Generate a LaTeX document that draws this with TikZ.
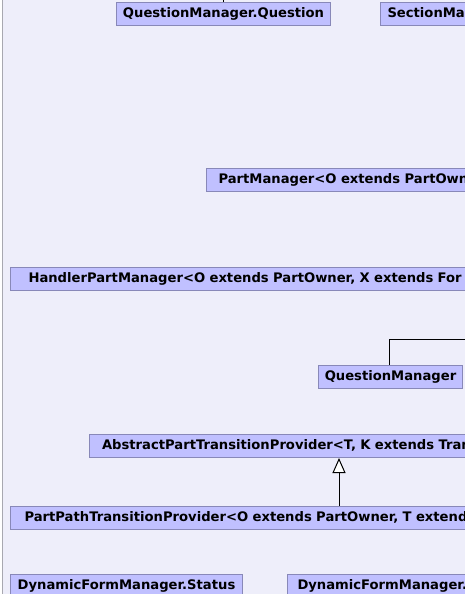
\documentclass[tikz,border=0pt]{standalone}
\usepackage{fontspec}
\setmainfont{DejaVu Sans}
\usetikzlibrary{arrows.meta}
\definecolor{bgc}{RGB}{238,238,250}
\definecolor{boxc}{RGB}{192,192,255}
\definecolor{bordc}{RGB}{136,136,184}
\definecolor{edgec}{RGB}{168,168,176}
\newcommand{\clsfont}{\fontsize{13.15pt}{15pt}\selectfont\bfseries}
\tikzset{
  cls/.style={draw=bordc, fill=boxc, line width=1pt, minimum height=23pt,
    inner ysep=0pt, text height=10pt, text depth=3pt, anchor=north west,
    font=\clsfont, text=black},
  widecls/.style={cls, text width=700pt, align=left, inner xsep=#1},
  link/.style={draw=black, line width=1pt},
  inherit/.style={link, -{Triangle[length=15pt, width=13pt, fill=white]}}
}
\begin{document}
\begin{tikzpicture}[x=1pt, y=-1pt]
\useasboundingbox (0,0) rectangle (465,594);
\clip (0,0) rectangle (465,594);
\fill[white] (0,0) rectangle (465,594);
\fill[bgc] (2.5,-2) rectangle (470,600);
\draw[edgec, line width=1pt] (2.5,-2) -- (2.5,600);

\node[cls, minimum width=214pt, inner xsep=0pt] (qmq) at (116,2) {QuestionManager.Question};
\node[widecls=7pt] (sm) at (380,2) {SectionMan};
\node[widecls=12pt] (pm) at (206,168) {PartManager\textless O extends PartOwn};
\node[widecls=18pt] (hpm) at (10,267) {HandlerPartManager\textless O extends PartOwner, X extends For};
\node[cls, minimum width=144pt, inner xsep=0pt] (qm) at (318,365) {QuestionManager};
\node[widecls=12.5pt] (aptp) at (89,434) {AbstractPartTransitionProvider\textless T, K extends Tran};
\node[widecls=14pt] (pptp) at (10,506) {PartPathTransitionProvider\textless O extends PartOwner, T extend};
\node[cls, minimum width=232pt, inner xsep=0pt] (dfms) at (10,574) {DynamicFormManager.Status};
\node[widecls=10pt] (dfm) at (287,574) {DynamicFormManager.};

\coordinate (qmqup) at (223,-3);
\coordinate (qmright) at (470,339);
\draw[link] ([xshift=107pt]qmq.north west) -- (qmqup);
\draw[link] ([xshift=71pt]qm.north west) |- (qmright);
\draw[inherit] ([xshift=329pt]pptp.north west) -- ([xshift=250pt]aptp.south west);
\end{tikzpicture}
\end{document}
